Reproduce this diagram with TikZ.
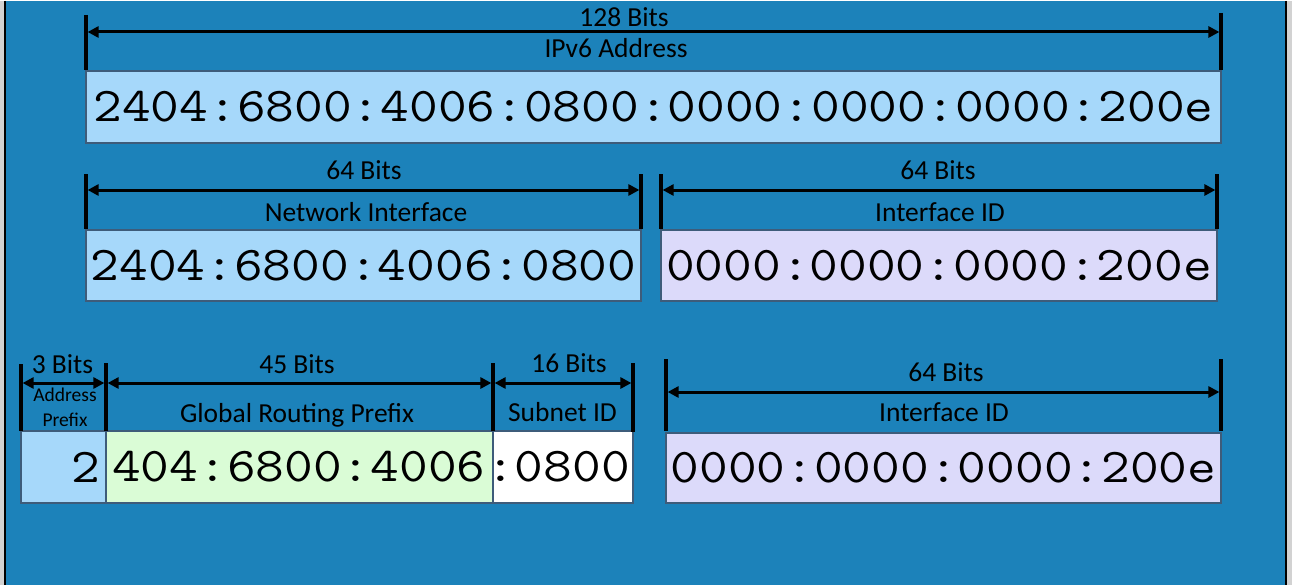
\documentclass[tikz,border=0pt]{standalone}
\usepackage{fontspec}
\setmainfont{Carlito}
\usetikzlibrary{arrows.meta}

\definecolor{slide}{RGB}{28,130,186}
\definecolor{netblue}{RGB}{166,216,250}
\definecolor{ifid}{RGB}{220,218,250}
\definecolor{routing}{RGB}{218,252,214}
\definecolor{edgegray}{RGB}{62,92,122}

% monospaced address digits, widened to the field pitch
\newcommand\addrtxt[1]{\scalebox{1.15}[1]{#1}}

\begin{document}
\begin{tikzpicture}[x=1pt,y=-1pt,
  field/.style={draw=edgegray, line width=1.4pt, anchor=north west,
    inner sep=0pt, outer sep=0pt},
  addr/.style={font=\ttfamily\fontsize{48.5}{50}\selectfont, inner sep=0pt},
  lbl/.style={font=\fontsize{27.5}{30}\selectfont, inner sep=0pt, anchor=base},
  small/.style={font=\fontsize{19.5}{22}\selectfont, inner sep=0pt, anchor=base},
  tick/.style={line width=3.4pt},
  span/.style={line width=3pt,
    {Triangle[length=11pt,width=11pt]}-{Triangle[length=11pt,width=11pt]},
    shorten <=1.6pt, shorten >=1.6pt}
]
% slide background and frame
\fill[gray!35] (0,0) rectangle (1292,584);
\fill[slide] (5,0) rectangle (1286,584);
\draw[line width=2pt] (5,0) -- (5,584);
\draw[line width=2pt] (1286,0) -- (1286,584);
\useasboundingbox (0,0) rectangle (1292,584);

% ---------- full address ----------
\node[field, fill=netblue, minimum width=1135pt, minimum height=72pt] (full) at (86,70) {};
\node[addr] at (full.center) {\addrtxt{2404:6800:4006:0800:0000:0000:0000:200e}};
\coordinate (fA1) at (86,14);  \coordinate (fA2) at (86,69);
\coordinate (fB1) at (1221,12); \coordinate (fB2) at (1221,69);
\coordinate (fL) at (86,31);   \coordinate (fR) at (1221,31);
\draw[tick] (fA1) -- (fA2);
\draw[tick] (fB1) -- (fB2);
\draw[span] (fL) -- (fR);
\node[lbl] (fbits) at (624,26) {128 Bits};
\node[lbl] (fname) at (616,57) {IPv6 Address};

% ---------- network / interface halves ----------
\node[field, fill=netblue, minimum width=555pt, minimum height=71pt] (net) at (86,229) {};
\node[addr] at (net.center) {\addrtxt{2404:6800:4006:0800}};
\node[field, fill=ifid, minimum width=556pt, minimum height=71pt] (iid) at (661,229) {};
\node[addr] at (iid.center) {\addrtxt{0000:0000:0000:200e}};

\coordinate (nA1) at (86,173);  \coordinate (nA2) at (86,228);
\coordinate (nB1) at (641,173); \coordinate (nB2) at (641,228);
\coordinate (nL) at (86,189);   \coordinate (nR) at (641,189);
\draw[tick] (nA1) -- (nA2);
\draw[tick] (nB1) -- (nB2);
\draw[span] (nL) -- (nR);
\node[lbl] (nbits) at (364,178) {64 Bits};
\node[lbl] (nname) at (366,220) {Network Interface};

\coordinate (iA1) at (661,173);  \coordinate (iA2) at (661,228);
\coordinate (iB1) at (1217,173); \coordinate (iB2) at (1217,228);
\coordinate (iL) at (661,189);   \coordinate (iR) at (1217,189);
\draw[tick] (iA1) -- (iA2);
\draw[tick] (iB1) -- (iB2);
\draw[span] (iL) -- (iR);
\node[lbl] (ibits) at (938,178) {64 Bits};
\node[lbl] (iname) at (940,220) {Interface ID};

% ---------- global unicast breakdown ----------
\node[field, fill=netblue, minimum width=85pt, minimum height=72pt] (pfx) at (21,430) {};
\node[field, fill=routing, minimum width=387pt, minimum height=72pt] (grp) at (106,430) {};
\node[field, fill=white, minimum width=140pt, minimum height=72pt] (sub) at (493,430) {};
\node[addr, anchor=east] at (100,466) {\addrtxt{2}};
\node[addr, anchor=west] at (112,466) {\addrtxt{404:6800:4006}};
\node[addr, anchor=west] at (486,466) {\addrtxt{:0800}};

\coordinate (b1t) at (21,363);  \coordinate (b1b) at (21,430);
\coordinate (b2t) at (106,362); \coordinate (b2b) at (106,430);
\coordinate (b3t) at (493,362); \coordinate (b3b) at (493,430);
\coordinate (b4t) at (633,362); \coordinate (b4b) at (633,431);
\coordinate (b1m) at (21,382);  \coordinate (b2m) at (106,382);
\coordinate (b3m) at (493,382); \coordinate (b4m) at (633,382);
\draw[tick] (b1t) -- (b1b);
\draw[tick] (b2t) -- (b2b);
\draw[tick] (b3t) -- (b3b);
\draw[tick] (b4t) -- (b4b);
\draw[span] (b1m) -- (b2m);
\draw[span] (b2m) -- (b3m);
\draw[span] (b3m) -- (b4m);

\node[lbl] (pbits) at (62.5,372) {3 Bits};
\node[small] (pname1) at (65,400) {Address};
\node[small] (pname2) at (65,425) {Prefix};
\node[lbl] (gbits) at (297,372) {45 Bits};
\node[lbl] (gname) at (297,421) {Global Routing Prefix};
\node[lbl] (sbits) at (569,371) {16 Bits};
\node[lbl] (sname) at (562.5,420) {Subnet ID};

% ---------- interface id, lower row ----------
\node[field, fill=ifid, minimum width=555pt, minimum height=70pt] (iid2) at (666,432) {};
\node[addr] at (iid2.center) {\addrtxt{0000:0000:0000:200e}};
\coordinate (jA1) at (666,358);  \coordinate (jA2) at (666,430);
\coordinate (jB1) at (1221,358); \coordinate (jB2) at (1221,430);
\coordinate (jL) at (666,391);   \coordinate (jR) at (1221,391);
\draw[tick] (jA1) -- (jA2);
\draw[tick] (jB1) -- (jB2);
\draw[span] (jL) -- (jR);
\node[lbl] (jbits) at (946,380) {64 Bits};
\node[lbl] (jname) at (944,420) {Interface ID};
\end{tikzpicture}
\end{document}
